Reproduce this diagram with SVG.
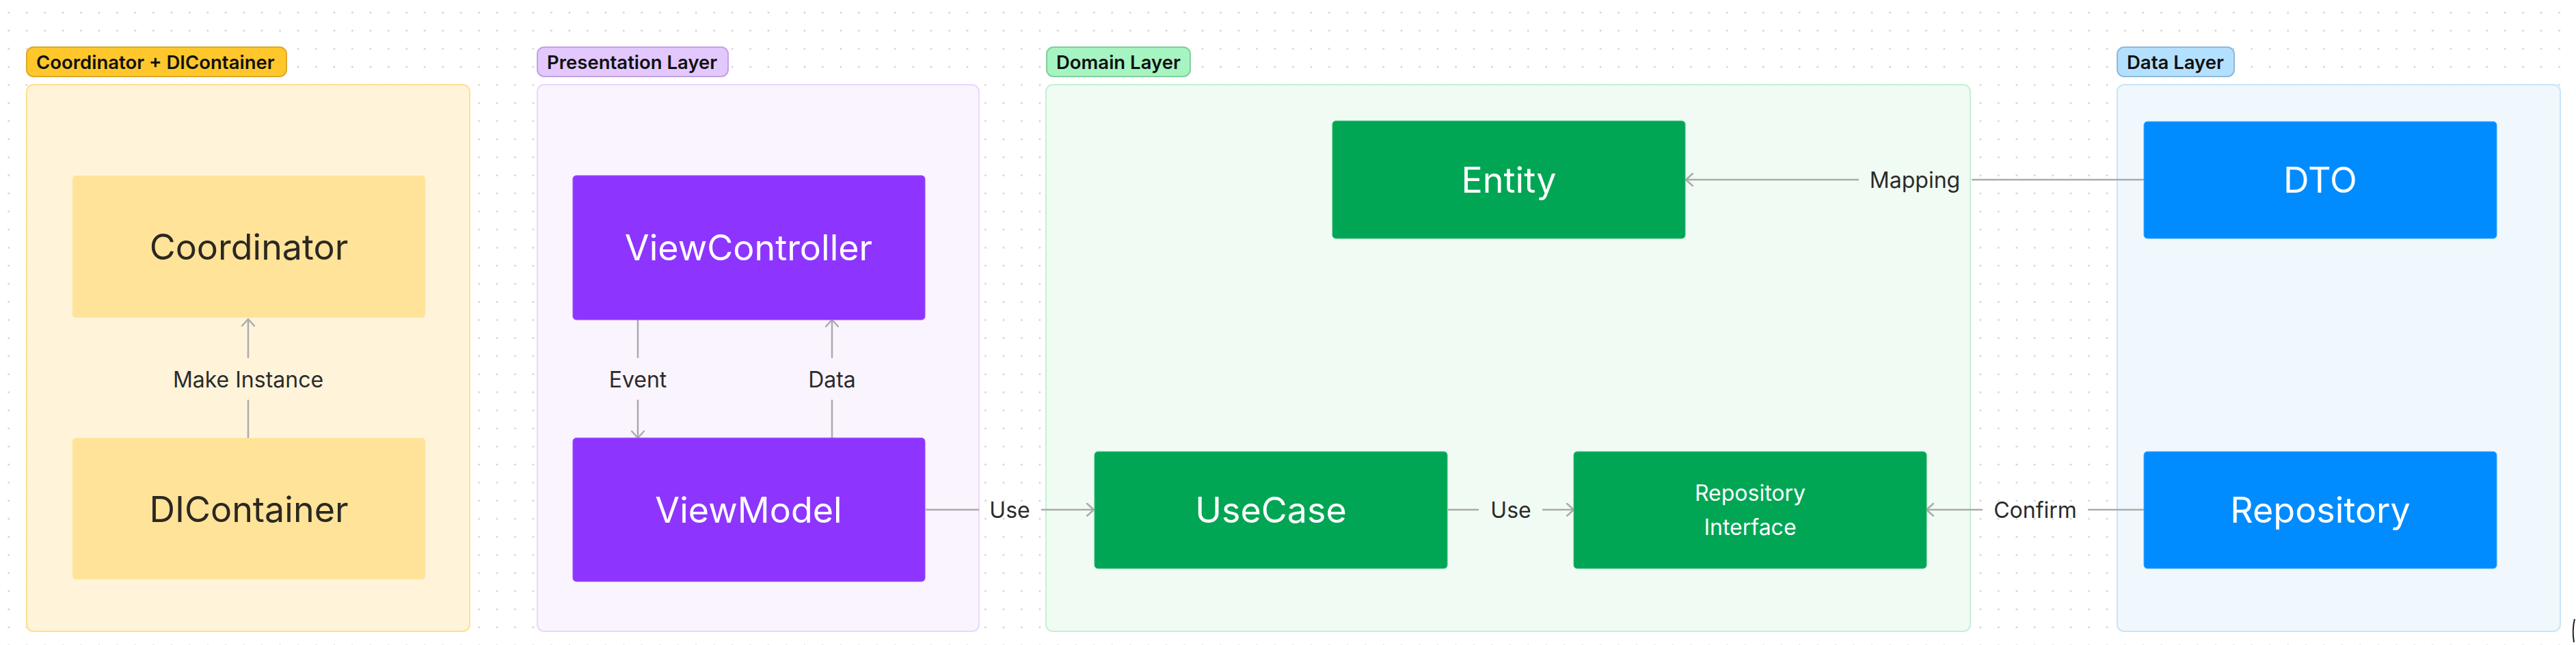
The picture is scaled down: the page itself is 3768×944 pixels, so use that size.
<svg xmlns="http://www.w3.org/2000/svg" width="3768" height="944" viewBox="0 0 3768 944">
<style>
text{font-family:Inter,"Liberation Sans",sans-serif}
.lbl{font-size:27.5px;font-weight:600;fill:#111111}
.node{font-size:52px;text-anchor:middle}
.dark{fill:#2B2822}
.light{fill:#FFFFFF}
.small{font-size:32px;text-anchor:middle}
.elab{font-size:32px;text-anchor:middle;fill:#2B2B2B}
.edge{stroke:#ABABAB;stroke-width:2.5;fill:none}
</style>
<defs>
<pattern id="dots" patternUnits="userSpaceOnUse" x="0" y="0" width="26.46" height="26.46">
<circle cx="12.7" cy="18.54" r="1.4" fill="#CFCFCF"/>
</pattern>
<marker id="arr" viewBox="0 0 12 20" refX="11" refY="10" markerWidth="12" markerHeight="20" markerUnits="userSpaceOnUse" orient="auto">
<path d="M1,1 L11,10 L1,19" fill="none" stroke="#ABABAB" stroke-width="2.5" stroke-linecap="round" stroke-linejoin="round"/>
</marker>
</defs>
<rect width="3768" height="944" fill="#FFFFFF"/>
<rect width="3768" height="944" fill="url(#dots)"/>

<g id="group-coordinator">
<rect x="39" y="124" width="648" height="800" rx="10" fill="#FFF4D9" stroke="#FFE08A" stroke-width="2"/>
<rect x="39" y="69" width="380" height="43" rx="10" fill="#FFC72C" stroke="#E0A825" stroke-width="2"/>
<text class="lbl" x="53" y="101">Coordinator + DIContainer</text>
</g>
<g id="group-presentation">
<rect x="786" y="124" width="646" height="800" rx="10" fill="#FAF4FE" stroke="#EAD8FB" stroke-width="2"/>
<rect x="786" y="69" width="279" height="43" rx="10" fill="#E3C8FE" stroke="#C3A1E3" stroke-width="2"/>
<text class="lbl" x="800" y="101">Presentation Layer</text>
</g>
<g id="group-domain">
<rect x="1530" y="124" width="1352" height="800" rx="10" fill="#F0FBF3" stroke="#C4F1D2" stroke-width="2"/>
<rect x="1531" y="69" width="210" height="43" rx="10" fill="#A5F4C1" stroke="#7FCF9B" stroke-width="2"/>
<text class="lbl" x="1545" y="101">Domain Layer</text>
</g>
<g id="group-data">
<rect x="3097" y="124" width="648" height="800" rx="10" fill="#F0F8FD" stroke="#C9E5F8" stroke-width="2"/>
<rect x="3097" y="69" width="171" height="43" rx="10" fill="#B4E0FF" stroke="#8DB9DA" stroke-width="2"/>
<text class="lbl" x="3111" y="101">Data Layer</text>
</g>

<g id="connectors">
<path class="edge" d="M363,641 V585"/>
<path class="edge" d="M363,524 V467" marker-end="url(#arr)"/>
<text class="elab" x="363" y="567">Make Instance</text>
<path class="edge" d="M933,468 V524"/>
<path class="edge" d="M933,585 V641" marker-end="url(#arr)"/>
<text class="elab" x="933" y="567">Event</text>
<path class="edge" d="M1217,641 V585"/>
<path class="edge" d="M1217,524 V468" marker-end="url(#arr)"/>
<text class="elab" x="1217" y="567">Data</text>
<path class="edge" d="M1354,746 H1432"/>
<path class="edge" d="M1523,746 H1600" marker-end="url(#arr)"/>
<text class="elab" x="1477" y="758">Use</text>
<path class="edge" d="M2118,746 H2163"/>
<path class="edge" d="M2256,746 H2302" marker-end="url(#arr)"/>
<text class="elab" x="2210" y="758">Use</text>
<path class="edge" d="M3136,746 H3054"/>
<path class="edge" d="M2900,746 H2818" marker-end="url(#arr)"/>
<text class="elab" x="2977" y="758">Confirm</text>
<path class="edge" d="M3136,263 H2884"/>
<path class="edge" d="M2719,263 H2466" marker-end="url(#arr)"/>
<text class="elab" x="2801" y="275">Mapping</text>
</g>

<g id="node-coordinator">
<rect x="106" y="257" width="516" height="208" rx="5" fill="#FEE399"/>
<text class="node dark" x="364" y="380">Coordinator</text>
</g>
<g id="node-dicontainer">
<rect x="106" y="641" width="516" height="207" rx="5" fill="#FEE399"/>
<text class="node dark" x="364" y="764">DIContainer</text>
</g>
<g id="node-viewcontroller">
<rect x="838" y="257" width="515" height="211" rx="5" fill="#8D35FF" stroke="#9B4DFF" stroke-width="1"/>
<text class="node light" x="1095" y="381">ViewController</text>
</g>
<g id="node-viewmodel">
<rect x="838" y="641" width="515" height="210" rx="5" fill="#8D35FF" stroke="#9B4DFF" stroke-width="1"/>
<text class="node light" x="1095" y="765">ViewModel</text>
</g>
<g id="node-entity">
<rect x="1949" y="177" width="516" height="172" rx="5" fill="#00A654" stroke="#3DBB7A" stroke-width="1"/>
<text class="node light" x="2207" y="282">Entity</text>
</g>
<g id="node-usecase">
<rect x="1601" y="661" width="516" height="171" rx="5" fill="#00A654" stroke="#3DBB7A" stroke-width="1"/>
<text class="node light" x="1859" y="765">UseCase</text>
</g>
<g id="node-repository-interface">
<rect x="2302" y="661" width="516" height="171" rx="5" fill="#00A654" stroke="#3DBB7A" stroke-width="1"/>
<text class="small light" x="2560" y="733">Repository</text>
<text class="small light" x="2560" y="783">Interface</text>
</g>
<g id="node-dto">
<rect x="3136" y="178" width="516" height="171" rx="5" fill="#008CFF" stroke="#3AA5FF" stroke-width="1"/>
<text class="node light" x="3394" y="282">DTO</text>
</g>
<g id="node-repository">
<rect x="3136" y="661" width="516" height="171" rx="5" fill="#008CFF" stroke="#3AA5FF" stroke-width="1"/>
<text class="node light" x="3394" y="765">Repository</text>
</g>
<path d="M3766,906 Q3762,922 3765,940" fill="none" stroke="#222222" stroke-width="2"/>
</svg>
